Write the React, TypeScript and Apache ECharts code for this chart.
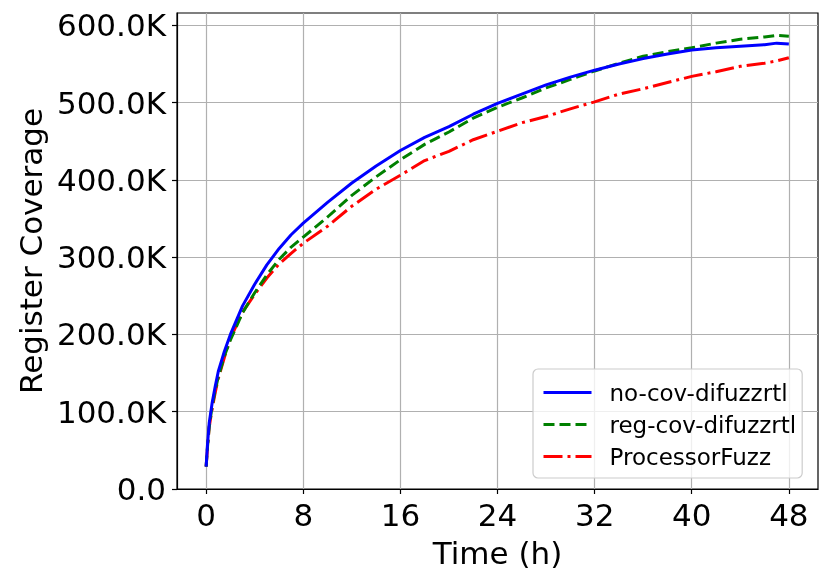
import React, { useEffect, useRef } from "react";
import * as echarts from "echarts";

const times = [0, 0.1, 0.25, 0.5, 0.75, 1, 1.5, 2, 3, 4, 5, 6, 7, 8, 10, 12, 14, 16, 18, 20, 22, 24, 26, 28, 30, 32, 34, 36, 38, 40, 42, 44, 46, 47, 48];

// values in thousands (K)
const noCov = [29, 55, 85, 112, 133, 152, 178, 200, 237, 265, 290, 311, 329, 344, 371, 396, 418, 438, 455, 469, 485, 499, 511, 523, 533, 542, 550, 557, 563, 568, 571, 573, 575, 577, 576];
const regCov = [29, 52, 80, 108, 128, 145, 172, 193, 228, 254, 277, 297, 313, 326, 352, 380, 404, 426, 446, 462, 480, 494, 506, 519, 530, 541, 551, 560, 566, 571, 577, 582, 585, 587, 586];
const procFuzz = [29, 50, 80, 104, 125, 143, 170, 195, 229, 252, 273, 291, 305, 318, 340, 366, 388, 406, 425, 437, 452, 463, 474, 482, 492, 501, 511, 518, 526, 534, 540, 547, 551, 554, 558];

const seriesNames = ["no-cov-difuzzrtl", "reg-cov-difuzzrtl", "ProcessorFuzz"];
const xTicks = [0, 8, 16, 24, 32, 40, 48];
const yTicks = [0, 100000, 200000, 300000, 400000, 500000, 600000];

const FONT = "DejaVu Sans";

export default function App() {
  const ref = useRef<HTMLDivElement>(null);
  useEffect(() => {
    const chart = echarts.init(ref.current!, null, { renderer: "svg" });
    const toPairs = (vals: number[]) => times.map((t, i) => [t, vals[i] * 1000]);
    const colors = ["#0000ff", "#008000", "#ff0000"];
    const dashes: any[] = ["solid", [11, 5], [19, 5, 3, 5]];
    const allVals = [noCov, regCov, procFuzz];
    chart.setOption({
      animation: false,
      grid: {
        left: 177, right: 13, top: 13, bottom: 96, containLabel: false,
        show: true, borderColor: "#000", borderWidth: 1.2, backgroundColor: "transparent",
      },
      xAxis: {
        type: "value",
        min: -2.4,
        max: 50.4,
        name: "Time (h)",
        nameLocation: "middle",
        nameGap: 48,
        nameTextStyle: { fontSize: 31, fontFamily: FONT, color: "#000" },
        axisLine: { show: true, onZero: false, lineStyle: { color: "#000", width: 1.2 } },
        axisTick: { show: true, length: 5, lineStyle: { color: "#000", width: 1.2 }, customValues: xTicks },
        axisLabel: { fontSize: 31, fontFamily: FONT, color: "#000", margin: 10, customValues: xTicks, formatter: (v: number) => String(v) },
        splitLine: { show: true, lineStyle: { color: "#b0b0b0", width: 1.2 } },
      },
      yAxis: {
        type: "value",
        min: 0,
        max: 616000,
        name: "Register Coverage",
        nameLocation: "middle",
        nameGap: 128,
        nameTextStyle: { fontSize: 31, fontFamily: FONT, color: "#000" },
        axisLine: { show: true, onZero: false, lineStyle: { color: "#000", width: 1.2 } },
        axisTick: { show: true, length: 5, lineStyle: { color: "#000", width: 1.2 }, customValues: yTicks },
        axisLabel: {
          fontSize: 31, fontFamily: FONT, color: "#000", margin: 11, customValues: yTicks,
          formatter: (v: number) => (v === 0 ? "0.0" : (v / 1000).toFixed(1) + "K"),
        },
        splitLine: { show: true, lineStyle: { color: "#b0b0b0", width: 1.2 } },
      },
      legend: {
        orient: "vertical",
        left: 533,
        top: 369,
        padding: [12, 6, 10, 9],
        itemWidth: 48,
        itemHeight: 14,
        itemGap: 9,
        backgroundColor: "rgba(255,255,255,0.8)",
        borderColor: "#cccccc",
        borderWidth: 1.2,
        borderRadius: 5,
        itemStyle: { opacity: 0 },
        lineStyle: { width: 3 },
        textStyle: { fontSize: 23, fontFamily: FONT, color: "#000", padding: [0, 0, 0, 13] },
        data: seriesNames,
      },
      series: seriesNames.map((name, i) => ({
        name,
        type: "line",
        data: toPairs(allVals[i]),
        showSymbol: false,
        symbol: "none",
        lineStyle: { color: colors[i], width: 3, type: dashes[i] },
        itemStyle: { color: colors[i] },
        z: 3 - i,
      })),
    });
    return () => chart.dispose();
  }, []);
  return <div ref={ref} style={{ position: "fixed", left: 0, top: 0, width: 831, height: 585 }} />;
}
